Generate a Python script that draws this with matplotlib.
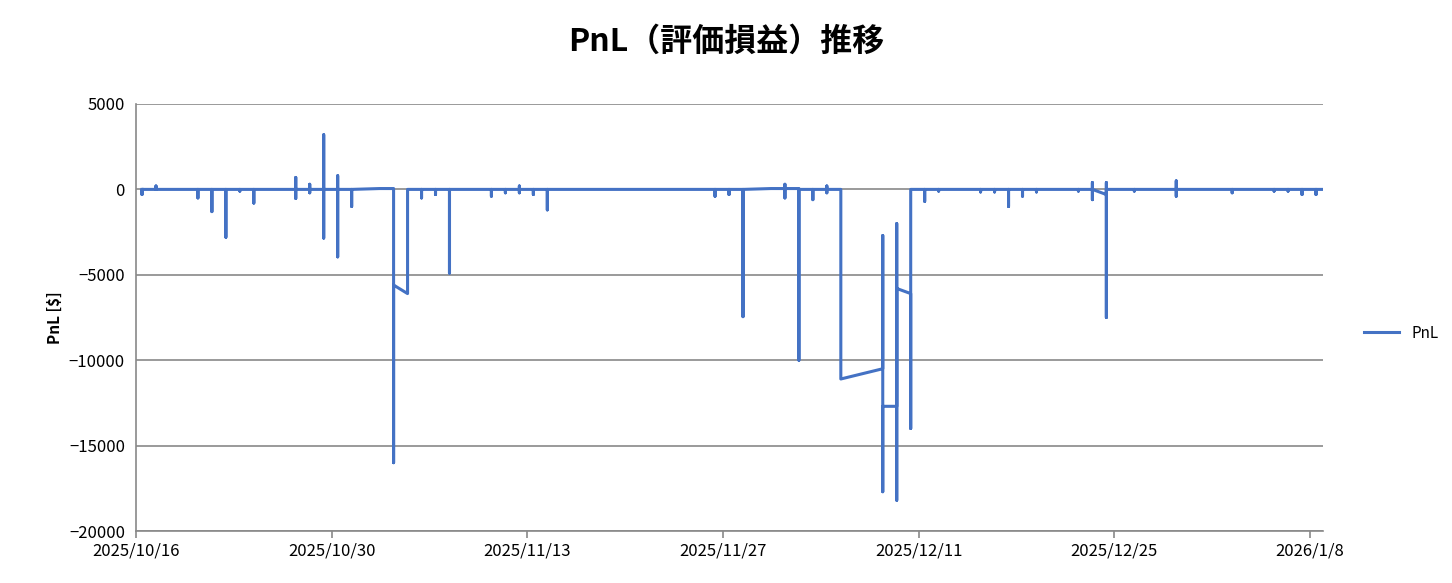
import numpy as np
import matplotlib
matplotlib.use('Agg')
import matplotlib.pyplot as plt
from datetime import datetime, timedelta

plt.rcParams['font.family'] = ['Noto Sans CJK JP', 'DejaVu Sans']

start = datetime(2025, 10, 16)
# trading day index (days after 2025/10/16) and the PnL values visited that day
day_idx = [0, 1, 4, 5, 6, 7, 8, 11, 12, 13, 14, 15, 17, 18, 19, 20, 21, 22,
           25, 26, 27, 28, 29, 41, 42, 43, 45, 46, 47, 48, 49, 50, 53, 54, 55,
           56, 57, 60, 61, 62, 63, 64, 67, 68, 69, 71, 74, 78, 81, 82, 83, 84]
pnl_seq = [
    [0, -300, 0], [0, 200, 0], [0, -500, 0], [0, -1300, 0], [0, -2800, 0],
    [0, -100, 0], [0, -800, 0], [0, 700, -530, 0], [0, 300, -200, 0],
    [0, 3200, -2850, 0], [0, 800, -3950, 0], [0, -1000, 0], [50],
    [50, -16000, -5600], [-6100, 0], [0, -500, 0], [0, -200, -300, 0],
    [0, -4900, 0], [0, -400, 0], [0, -200, 0], [0, 200, -200, 0], [0, -300, 0],
    [0, -1200, 0], [0, -400, 0], [0, -300, 0], [0, -7450, 0], [50],
    [50, 300, -500, 50], [50, -10000, 0], [0, -600, 0], [0, 200, -200, 0],
    [0, -11100], [-10500, -2700, -17700, -12700],
    [-12700, -2000, -18200, -5800], [-6100, -14000, 0], [0, -700, 0],
    [0, -100, 0], [0, -150, 0], [0, -150, 0], [0, -1000, 0], [0, -400, 0],
    [0, -150, 0], [0, -100, 0], [0, 400, -600, 0], [-300, 400, -7500, 0],
    [0, -100, 0], [0, 500, -400, 0], [0, -200, 0], [0, -100, 0], [0, -100, 0],
    [0, -300, 0], [0, -300, 0],
]

times, vals = [], []
for d, seq in zip(day_idx, pnl_seq):
    for v in seq:
        times.append(start + timedelta(days=d + 0.43))
        vals.append(v)
times.append(start + timedelta(days=84.9))
vals.append(0)

fig = plt.figure(figsize=(14.52, 5.83), dpi=100)
ax = fig.add_axes([136 / 1452, 1 - 531 / 583, (1323 - 136) / 1452, (531 - 104) / 583])
ax.plot(times, vals, color='#4472C4', lw=2.2, label='PnL')

ax.set_ylim(-20000, 5000)
ax.set_yticks(np.arange(-20000, 5001, 5000))
ax.set_xlim(start, start + timedelta(days=84.93))
ticks = [start + timedelta(days=14 * i) for i in range(7)]
ax.set_xticks(ticks)
ax.set_xticklabels([f'{t.year}/{t.month}/{t.day}' for t in ticks])
ax.grid(axis='y', color='#898989', lw=1.2)
ax.set_axisbelow(True)
for s in ['top', 'right']:
    ax.spines[s].set_visible(False)
for s in ['left', 'bottom']:
    ax.spines[s].set_color('#898989')
    ax.spines[s].set_linewidth(1.2)
ax.tick_params(axis='x', colors='#898989', labelcolor='black', labelsize=12, length=5, width=1.2)
ax.tick_params(axis='y', length=0, labelsize=12, pad=8)
ax.set_ylabel('PnL [$]', fontsize=11, fontweight='bold')
fig.suptitle('PnL（評価損益）推移', fontsize=23, fontweight='bold', y=0.955)
fig.legend(loc='center left', bbox_to_anchor=(1350 / 1452, 1 - 333 / 583),
           frameon=False, fontsize=11, handlelength=2.3)
fig.savefig('out.png', dpi=100)
